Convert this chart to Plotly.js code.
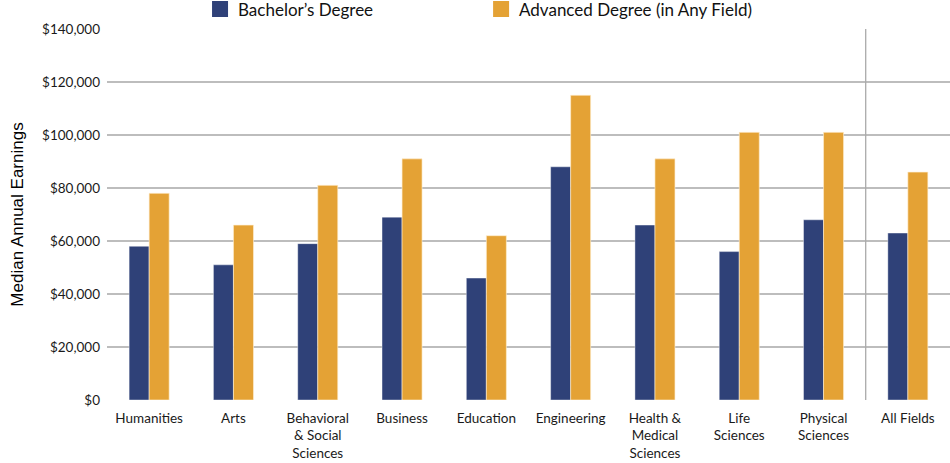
<!DOCTYPE html>
<html>
<head>
<meta charset="utf-8">
<script src="https://cdn.plot.ly/plotly-3.0.1.min.js"></script>
<style>html,body{margin:0;padding:0;background:#fff;}#chart{width:950px;height:463px;}</style>
</head>
<body>
<div id="chart"></div>
<script>
const categories = ["Humanities", "Arts", "Behavioral<br>& Social<br>Sciences", "Business", "Education", "Engineering", "Health &<br>Medical<br>Sciences", "Life<br>Sciences", "Physical<br>Sciences", "All Fields"];
const bachelors = [58000, 51000, 59000, 69000, 46000, 88000, 66000, 56000, 68000, 63000];
const advanced = [78000, 66000, 81000, 91000, 62000, 115000, 91000, 101000, 101000, 86000];
const tickVals = [0, 20000, 40000, 60000, 80000, 100000, 120000, 140000];
const tickText = ["$0", "$20,000", "$40,000", "$60,000", "$80,000", "$100,000", "$120,000", "$140,000"];
const seriesNames = ["Bachelor\u2019s Degree", "Advanced Degree (in Any Field)"];
const seriesColors = ["#2f4178", "#e4a235"];

const FONT = "Lato, 'Open Sans', sans-serif";
const traces = [
  {type: "bar", x: categories, y: bachelors, name: seriesNames[0],
   marker: {color: seriesColors[0], line: {color: "rgba(255,255,255,0.5)", width: 0.8}}, hoverinfo: "none"},
  {type: "bar", x: categories, y: advanced, name: seriesNames[1],
   marker: {color: seriesColors[1], line: {color: "rgba(255,240,210,0.8)", width: 0.8}}, hoverinfo: "none"}
];

// Legend drawn as swatches + text (real text) positioned in the top margin
const legendX = [0.1246, 0.4580];   // swatch left edges (paper fraction)
const legendShapes = seriesColors.map((c, i) => ({
  type: "rect", xref: "paper", yref: "paper", xsizemode: "pixel", ysizemode: "pixel",
  xanchor: legendX[i], yanchor: 1, x0: 0, x1: 16, y0: 12, y1: 28,
  fillcolor: c, line: {width: 0}
}));
const legendAnnotations = seriesNames.map((n, i) => ({
  text: n, xref: "paper", yref: "paper", x: legendX[i], xshift: 24, y: 1, yshift: 20,
  xanchor: "left", yanchor: "middle", showarrow: false,
  font: {family: FONT, size: 17, color: "#111"}
}));

const layout = {
  width: 950, height: 463,
  margin: {l: 107, r: 0, t: 29, b: 63},
  paper_bgcolor: "#fff", plot_bgcolor: "#fff",
  font: {family: FONT, color: "#1a1a1a", size: 13},
  barmode: "group", bargap: 0.525, bargroupgap: 0,
  showlegend: false,
  xaxis: {type: "category", range: [-0.5, 9.5], showgrid: false, zeroline: false,
          showline: false, ticks: "", tickfont: {size: 13.5, color: "#1a1a1a"}, ticklabelstandoff: 8,
          fixedrange: true},
  yaxis: {range: [0, 140000], tickvals: tickVals, ticktext: tickText, showgrid: true,
          gridcolor: "#bdbdbd", gridwidth: 1.3, zeroline: false, showline: false,
          tickfont: {size: 13.5, color: "#1a1a1a"}, ticks: "", ticklabelstandoff: 6,
          title: {text: "Median Annual Earnings", font: {family: "'Liberation Sans', Arial, sans-serif", size: 17, color: "#000"}, standoff: 14},
          fixedrange: true},
  shapes: [
    {type: "line", xref: "x", yref: "y", x0: 8.5, x1: 8.5, y0: 0, y1: 140000,
     line: {color: "#aaaaaa", width: 1.3}}
  ].concat(legendShapes),
  annotations: legendAnnotations
};
Plotly.newPlot("chart", traces, layout, {displayModeBar: false, staticPlot: true});
</script>
</body>
</html>
